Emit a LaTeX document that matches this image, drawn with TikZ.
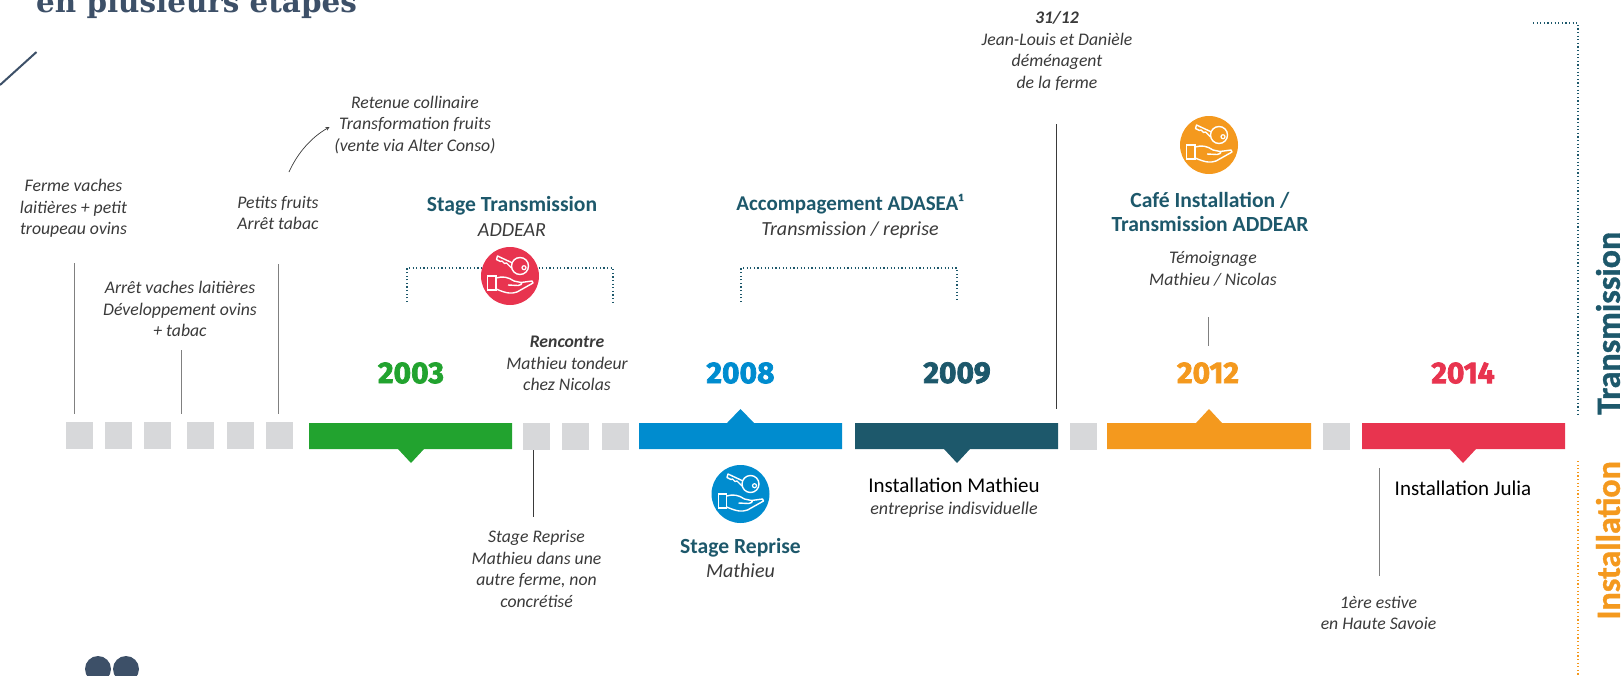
\documentclass[tikz,border=0pt]{standalone}
\usepackage{amsmath}
\usepackage{fontspec}
\setmainfont{Carlito}
\newfontfamily\yearfont[BoldFeatures = {FakeBold = 2.5}]{Fira Sans}
\newfontfamily\sidefont[BoldFeatures = {FakeBold = 1}]{Carlito}
\newfontfamily\titlefont{DejaVu Serif}

\definecolor{navy}{HTML}{3D5068}
\definecolor{teal}{HTML}{1D586B}
\definecolor{greenbar}{HTML}{22A32F}
\definecolor{bluebar}{HTML}{008CCF}
\definecolor{orangebar}{HTML}{F4991E}
\definecolor{redbar}{HTML}{E8344F}
\definecolor{squaregray}{HTML}{D7D8DA}
\definecolor{textgray}{HTML}{3A3A3A}

\tikzset{
    note/.style = {align = center, text = textgray, inner sep = 0pt, font = \fontsize{17.7}{21.7}\selectfont\itshape},
    heading/.style = {align = center, inner sep = 0pt, text = teal, font = \fontsize{21.6}{24.5}\selectfont},
    year/.style = {inner sep = 0pt, font = \fontsize{30}{32}\selectfont\yearfont\bfseries},
    side/.style = {rotate = 90, inner sep = 0pt, font = \fontsize{34}{35}\selectfont\sidefont\bfseries},
    stem/.style = {line width = 1pt, color = gray},
    darkstem/.style = {line width = 0.9pt, color = textgray},
    bracket/.style = {line width = 1.2pt, dash pattern = on 1.2pt off 2.4pt, color = teal},
    badge/.style = {circle, minimum size = 58pt, inner sep = 0pt},
    keyhand/.pic = {
        \draw [white, line width = 1.4pt, fill = none] (10,-10) circle(8.5);
        \draw [white, line width = 1.2pt] (14,-8.3) circle(2);
        \draw [white, line width = 1.4pt, line join = round] (2.5,-13) -- (-12.5,-20) -- (-13.5,-16.5) -- (-9.5,-14.5) -- (-8,-15) -- (-5.5,-12.5) -- (-3.5,-13) -- (1.5,-8);
        \draw [white, line width = 1.4pt] (-22.3,0) rectangle (-14,14);
        \draw [white, line width = 1.4pt, line join = round] (-14,2) .. controls (-7,0) and (-2,1) .. (4,5) -- (11,6.5) .. controls (13,8) and (10,9.5) .. (8,9.5) -- (-2,9);
        \draw [white, line width = 1.4pt, line join = round] (11,6.5) -- (22,5) -- (23,7) -- (7,16) .. controls (1,18) and (-3,17.5) .. (-14,13);
    }
}

\begin{document}
\begin{tikzpicture}[x = 1pt, y = -1pt]
        \useasboundingbox (0,0) rectangle (1624,675);

        \node (title) [anchor = base west, inner sep = 0pt, text = navy, font = \fontsize{29.4}{32}\selectfont\titlefont\bfseries] at (36,12) {en plusieurs étapes};

        \coordinate (slashA) at (0,85);
        \coordinate (slashB) at (36.5,52);
        \draw [line width = 2pt, color = navy] (slashA) -- (slashB);

        \fill [navy] (98,669) circle(13);
        \fill [navy] (126,669) circle(13);

        \fill [squaregray] (66,422) rectangle (93,449);
        \fill [squaregray] (105,422) rectangle (132,449);
        \fill [squaregray] (144,422) rectangle (171,449);
        \fill [squaregray] (187,422) rectangle (214,449);
        \fill [squaregray] (227,422) rectangle (254,449);
        \fill [squaregray] (266,422) rectangle (293,449);
        \fill [squaregray] (523,423) rectangle (550,450);
        \fill [squaregray] (562,423) rectangle (589,450);
        \fill [squaregray] (602,423) rectangle (629,450);
        \fill [squaregray] (1070,423) rectangle (1097,450);
        \fill [squaregray] (1323,423) rectangle (1350,450);

        \fill [greenbar] (309,423) -- (512,423) -- (512,449) -- (424,449) -- (411,463) -- (398,449) -- (309,449) -- cycle;
        \fill [bluebar] (639,423) -- (727,423) -- (740.5,409) -- (754,423) -- (842,423) -- (842,449) -- (639,449) -- cycle;
        \fill [teal] (855,423) -- (1058,423) -- (1058,449) -- (970,449) -- (957,463) -- (944,449) -- (855,449) -- cycle;
        \fill [orangebar] (1107,423) -- (1196,423) -- (1209,409) -- (1222,423) -- (1311,423) -- (1311,449) -- (1107,449) -- cycle;
        \fill [redbar] (1362,423) -- (1565,423) -- (1565,449) -- (1476,449) -- (1463,463) -- (1450,449) -- (1362,449) -- cycle;

        \node (y2003) [year, text = greenbar] at (411,373) {2003};
        \node (y2008) [year, text = bluebar] at (740.5,373) {2008};
        \node (y2009) [year, text = teal] at (957,373) {2009};
        \node (y2012) [year, text = orangebar] at (1208,373) {2012};
        \node (y2014) [year, text = redbar] at (1463,373) {2014};

        \node (ferme) [note] at (73.5,208.5) {Ferme vaches\\laitières + petit\\troupeau ovins};
        \node (arret) [note] at (180,309) {Arrêt vaches laitières\\Développement ovins\\+ tabac};
        \node (petits) [note] at (278,213) {Petits fruits\\Arrêt tabac};
        \node (retenue) [note] at (415,125) {Retenue collinaire\\Transformation fruits\\(vente via Alter Conso)};
        \node (rencontre) [note] at (567,363.5) {\textbf{Rencontre}\\Mathieu tondeur\\chez Nicolas};
        \node (reprise) [note] at (536.5,569) {Stage Reprise\\Mathieu dans une\\autre ferme, non\\concrétisé};
        \node (depart) [note] at (1057,51) {\textbf{31/12}\\Jean-Louis et Danièle\\déménagent\\de la ferme};
        \node (temoin) [note] at (1213,269) {Témoignage\\Mathieu / Nicolas};
        \node (estive) [note] at (1378.5,613) {1ère estive\\en Haute Savoie};

        \node (stagetrans) [heading] at (512,216.5) {\textbf{Stage Transmission}\\{\fontsize{20}{24.5}\selectfont\itshape\color{textgray}ADDEAR}};
        \node (adasea) [heading, font = \fontsize{21}{24.5}\selectfont] at (850,216.5) {\textbf{Accompagement ADASEA¹}\\{\fontsize{20}{24.5}\selectfont\itshape\color{textgray}Transmission / reprise}};
        \node (cafe) [heading] at (1210,212) {\textbf{Café Installation /}\\\textbf{Transmission ADDEAR}};
        \node (stagerep) [heading] at (740.5,558) {\textbf{Stage Reprise}\\{\fontsize{20}{24.5}\selectfont\itshape\color{textgray}Mathieu}};

        \node (instmat) [align = center, inner sep = 0pt, font = \fontsize{21}{22}\selectfont] at (954,498) {Installation Mathieu\\{\fontsize{18}{21}\selectfont\itshape\color{textgray}entreprise indisviduelle}};
        \node (instjul) [inner sep = 0pt, font = \fontsize{21}{22}\selectfont] at (1463,488) {Installation Julia};

        \node (sidetrans) [side, anchor = west, text = teal] at (1608,415) {Transmission};
        \node (sideinst) [side, anchor = east, text = orangebar] at (1608,461) {Installation};

        \coordinate (stemA) at (74,263);
        \coordinate (stemB) at (74,414);
        \coordinate (stemC) at (181,350);
        \coordinate (stemD) at (181,414);
        \coordinate (stemE) at (278.5,264);
        \coordinate (stemF) at (278.5,414);
        \coordinate (stemG) at (533.5,450);
        \coordinate (stemH) at (533.5,517);
        \coordinate (stemI) at (1056.5,124);
        \coordinate (stemJ) at (1056.5,409);
        \coordinate (stemK) at (1208.5,317);
        \coordinate (stemL) at (1208.5,346);
        \coordinate (stemM) at (1379.5,468);
        \coordinate (stemN) at (1379.5,576);
        \draw [stem] (stemA) -- (stemB);
        \draw [stem] (stemC) -- (stemD);
        \draw [stem] (stemE) -- (stemF);
        \draw [darkstem] (stemG) -- (stemH);
        \draw [darkstem] (stemI) -- (stemJ);
        \draw [stem] (stemK) -- (stemL);
        \draw [stem] (stemM) -- (stemN);

        \coordinate (curveA) at (289,172);
        \coordinate (curveB) at (329.5,127);
        \draw [-stealth, line width = 0.7pt, color = textgray] (curveA) .. controls (298,152) and (312,137) .. (curveB);

        \coordinate (brA) at (407,302);
        \coordinate (brB) at (407,268);
        \coordinate (brC) at (613,268);
        \coordinate (brD) at (613,302);
        \draw [bracket] (brA) -- (brB) -- (brC) -- (brD);

        \coordinate (brE) at (741,302);
        \coordinate (brF) at (741,268);
        \coordinate (brG) at (957,268);
        \coordinate (brH) at (957,302);
        \draw [bracket] (brE) -- (brF) -- (brG) -- (brH);

        \coordinate (dotA) at (1533,23);
        \coordinate (dotB) at (1578,23);
        \coordinate (dotC) at (1578,416);
        \draw [bracket] (dotA) -- (dotB) -- (dotC);

        \coordinate (dotD) at (1578,461);
        \coordinate (dotE) at (1578,675);
        \draw [bracket, color = orangebar] (dotD) -- (dotE);

        \node (iconred) [badge, fill = redbar] at (510,276) {};
        \node (iconblue) [badge, fill = bluebar] at (740.5,494) {};
        \node (iconorange) [badge, fill = orangebar] at (1209,145) {};
        \pic at (iconred) {keyhand};
        \pic at (iconblue) {keyhand};
        \pic at (iconorange) {keyhand};
    \end{tikzpicture}
\end{document}
